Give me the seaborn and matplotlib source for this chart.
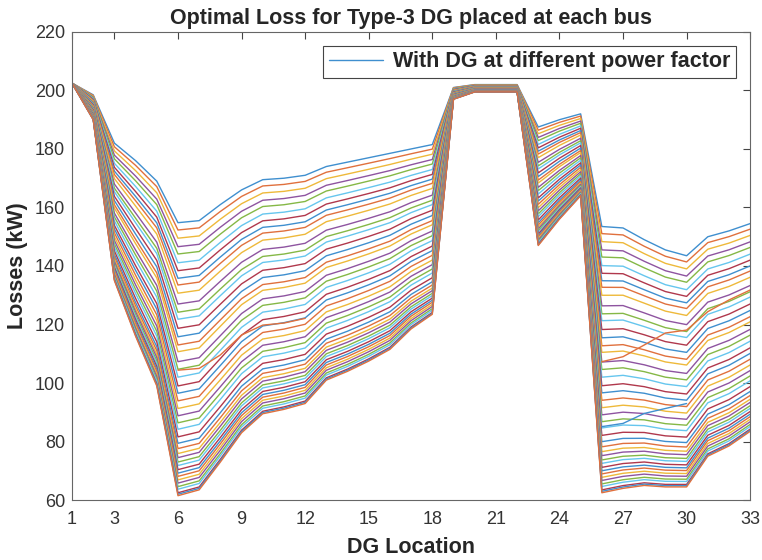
import numpy as np
import pandas as pd
import matplotlib
matplotlib.use("Agg")
import matplotlib.pyplot as plt
import seaborn as sns

# bus numbers (DG location)
buses = list(range(1, 34))

# upper envelope (first curve), kW
loss_top = [202.5, 198.5, 182.0, 176.0, 169.0, 154.8, 155.5, 161.0, 166.0, 169.5, 170.0,
            171.0, 174.0, 175.5, 177.0, 178.5, 180.0, 181.5, 201.0, 202.0, 202.0, 202.0,
            187.5, 190.0, 192.0, 153.5, 153.0, 149.0, 145.5, 143.5, 150.0, 152.0, 154.5]

# lower envelope (last curve), kW
loss_bottom = [202.5, 190.0, 135.0, 116.0, 99.0, 61.5, 63.5, 73.0, 83.0, 89.5, 91.0,
               93.0, 101.0, 104.0, 107.5, 111.5, 118.5, 123.5, 197.0, 199.5, 199.5, 199.5,
               147.0, 156.0, 164.0, 62.5, 64.0, 65.0, 64.5, 64.5, 75.0, 78.5, 83.5]

# loss of every power-factor curve at bus 6 (top to bottom)
loss_bus6 = [154.8, 152.3, 149.5, 146.6, 144.1, 141.1, 138.4, 135.8, 133.5, 130.7,
             127.0, 124.2, 121.8, 118.7, 115.8, 113.0, 110.7, 107.3, 104.7, 102.0,
             99.0, 96.5, 93.9, 91.3, 88.8, 86.4, 84.2, 81.6, 79.4, 77.6, 75.9, 74.5,
             73.0, 71.8, 70.4, 69.2, 68.1, 66.9, 65.8, 64.6, 63.7, 62.5, 62.0, 61.5]

# curves that cut across the others
cross1_bus = [6, 7, 8, 9, 10, 11, 12]
cross1_loss = [104.4, 105.0, 109.6, 116.4, 119.8, 120.5, 122.1]
cross2_bus = [26, 27, 28, 29, 30, 31, 32, 33]
cross2_loss = [107.3, 109.0, 113.0, 117.1, 118.1, 124.4, 128.4, 131.8]
cross3_bus = [26, 27, 28, 29, 30]
cross3_loss = [85.1, 86.2, 89.6, 91.3, 93.0]

matlab_colors = ['#3f8fcf', '#e0703d', '#eeb93a', '#8e54a0', '#85b846', '#66c6ee', '#b0384c']

top = np.array(loss_top)
bot = np.array(loss_bottom)
rows = []
for i, v in enumerate(loss_bus6):
    frac = (v - loss_bottom[5]) / (loss_top[5] - loss_bottom[5])
    curve = bot + (top - bot) * frac
    for b, y in zip(buses, curve):
        rows.append({'bus': b, 'loss': y, 'curve': i})
df = pd.DataFrame(rows)

sns.set_style('white')
plt.rcParams['font.family'] = ['Liberation Sans', 'DejaVu Sans']

fig = plt.figure(figsize=(7.62, 5.6), dpi=100)
ax = fig.add_axes([0.0945, 0.107, 0.890, 0.836])

palette = [matlab_colors[i % 7] for i in range(len(loss_bus6))]
sns.lineplot(data=df, x='bus', y='loss', hue='curve', palette=palette,
             linewidth=1.0, legend=False, ax=ax)
sns.lineplot(x=cross1_bus, y=cross1_loss, color=matlab_colors[1], linewidth=1.0, ax=ax)
sns.lineplot(x=cross2_bus, y=cross2_loss, color=matlab_colors[1], linewidth=1.0, ax=ax)
sns.lineplot(x=cross3_bus, y=cross3_loss, color=matlab_colors[0], linewidth=1.0, ax=ax)

ax.set_xlim(1, 33)
ax.set_ylim(60, 220)
ax.set_xticks([1, 3, 6, 9, 12, 15, 18, 21, 24, 27, 30, 33])
ax.set_yticks(range(60, 221, 20))
ax.tick_params(direction='in', top=True, right=True, length=5, width=0.8,
               labelsize=13, colors='#444444', labelcolor='#333333')
ax.tick_params(axis='x', pad=8)
ax.tick_params(axis='y', pad=5)
for s in ax.spines.values():
    s.set_color('#666666')
    s.set_linewidth(0.8)

ax.set_title('Optimal Loss for Type-3 DG placed at each bus', fontsize=15.5,
             fontweight='bold', pad=6)
ax.set_xlabel('DG Location', fontsize=15.5, fontweight='bold', labelpad=6)
ax.set_ylabel('Losses (kW)', fontsize=15.5, fontweight='bold', labelpad=5)

leg = ax.legend(handles=[ax.lines[0]], labels=['With DG at different power factor'],
                loc='upper right', fancybox=False, framealpha=1, edgecolor='#444444',
                prop={'weight': 'bold', 'size': 15.5}, handlelength=2.5,
                handletextpad=0.5, borderpad=0.25, borderaxespad=0.65)
leg.get_frame().set_linewidth(0.8)

fig.savefig('out.png', dpi=100)
